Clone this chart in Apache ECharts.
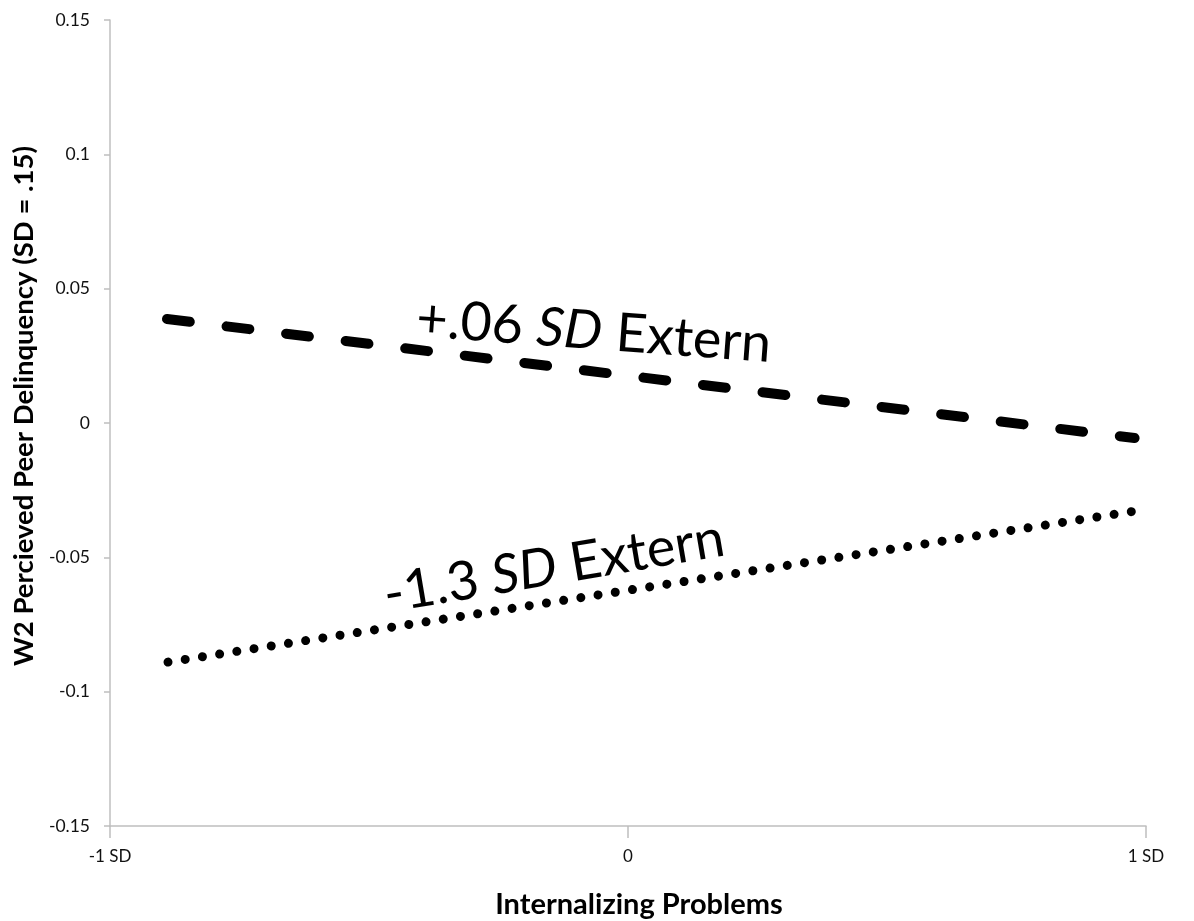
<!DOCTYPE html>
<html>
<head>
<meta charset="utf-8">
<script src="https://cdn.jsdelivr.net/npm/echarts@6/dist/echarts.min.js"></script>
<style>
  html, body { margin: 0; padding: 0; background: #fff; }
  #chart { width: 1194px; height: 921px; }
</style>
</head>
<body>
<div id="chart"></div>
<script>
// x positions in SD units, y values of peer delinquency
const highExternX = [-0.89, 0.978];
const highExternY = [0.0387, -0.0056];
const lowExternX = [-0.888, 0.978];
const lowExternY = [-0.089, -0.0328];
const xTickLabels = { "-1": "-1 SD", "0": "0", "1": "1 SD" };
// annotation anchors (data coords)
const highLabelPos = [-0.066, 0.034];
const lowLabelPos = [-0.143, -0.0535];

const font = "Lato, 'Open Sans', sans-serif";
const chart = echarts.init(document.getElementById("chart"));

function pairs(xs, ys) {
  return xs.map((x, i) => [x, ys[i]]);
}

function annot(pos, lead, rot, size) {
  const txt = { fontFamily: font, fontSize: size, color: "#000", textBorderWidth: 0 };
  return {
    type: "scatter",
    symbolSize: 0,
    silent: true,
    itemStyle: { opacity: 1 },
    data: [pos],
    label: {
      show: true,
      position: "inside",
      rotate: rot,
      color: "#000",
      opacity: 1,
      textBorderWidth: 0,
      formatter: "{a|" + lead + "}{b|SD}{a| Extern}",
      rich: {
        a: txt,
        b: Object.assign({}, txt, { fontStyle: "italic" }),
      },
    },
  };
}

chart.setOption({
  animation: false,
  grid: { left: 110, right: 48, top: 20, bottom: 95, outerBoundsMode: "none" },
  xAxis: {
    type: "value",
    min: -1,
    max: 1,
    interval: 1,
    name: "Internalizing Problems",
    nameLocation: "middle",
    nameGap: 64,
    nameTextStyle: {
      fontFamily: font, fontSize: 29, fontWeight: "bold", color: "#000",
      padding: [0, 0, 0, 22],
    },
    axisLine: { onZero: false, lineStyle: { color: "#bfbfbf", width: 1.5 } },
    axisTick: { show: true, length: 12, lineStyle: { color: "#bfbfbf", width: 1.5 } },
    axisLabel: {
      fontFamily: font, fontSize: 17, color: "#111", margin: 22,
      formatter: (v) => xTickLabels[String(Math.round(v))],
    },
    splitLine: { show: false },
  },
  yAxis: {
    type: "value",
    min: -0.15,
    max: 0.15,
    interval: 0.05,
    name: "W2 Percieved Peer Delinquency (SD = .15)",
    nameLocation: "middle",
    nameGap: 71,
    nameTextStyle: {
      fontFamily: font, fontSize: 27.5, fontWeight: "bold", color: "#000",
      padding: [0, 0, 0, 34],
    },
    axisLine: { show: true, onZero: false, lineStyle: { color: "#bfbfbf", width: 1.5 } },
    axisTick: { show: true, length: 6, lineStyle: { color: "#bfbfbf", width: 1.5 } },
    axisLabel: {
      fontFamily: font, fontSize: 17.5, color: "#111", margin: 20,
      formatter: (v) => String(+v.toFixed(2)),
    },
    splitLine: { show: false },
  },
  series: [
    {
      type: "line",
      data: pairs(highExternX, highExternY),
      symbol: "none",
      lineStyle: { color: "#000", width: 10, type: [23, 37], cap: "round" },
    },
    {
      type: "line",
      data: pairs(lowExternX, lowExternY),
      symbol: "none",
      lineStyle: { color: "#000", width: 9, type: [0.01, 17.4], cap: "round" },
    },
    annot(highLabelPos, "+.06 ", -4.2, 54),
    annot(lowLabelPos, "-1.3 ", 9.6, 54),
  ],
});
</script>
</body>
</html>
